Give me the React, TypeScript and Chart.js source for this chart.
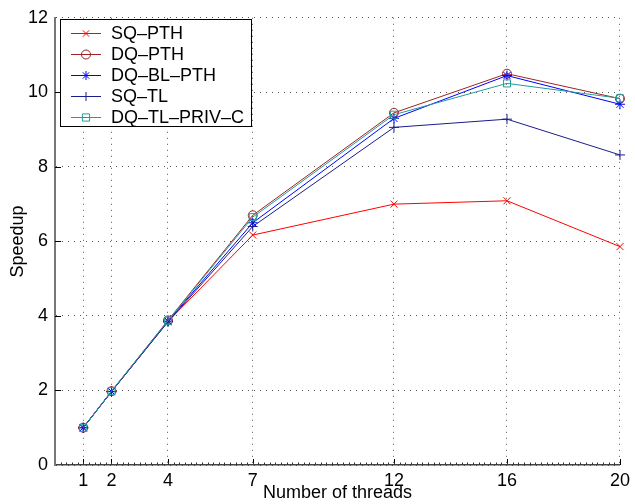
import React, { useEffect, useRef } from "react";
import { Chart, registerables } from "chart.js";

Chart.register(...registerables);

const threads = [1, 2, 4, 7, 12, 16, 20];
const xTicks = [1, 2, 4, 7, 12, 16, 20];
const yMin = 0;
const yMax = 12;
const yStep = 2;
const xMinorStep = 0.2;

const seriesNames = ["SQ–PTH", "DQ–PTH", "DQ–BL–PTH", "SQ–TL", "DQ–TL–PRIV–C"];
const sqPth = [1.0, 1.97, 3.85, 6.17, 7.0, 7.09, 5.86];
const dqPth = [1.0, 1.98, 3.88, 6.7, 9.45, 10.5, 9.83];
const dqBlPth = [1.0, 1.97, 3.86, 6.5, 9.3, 10.45, 9.68];
const sqTl = [1.0, 1.97, 3.84, 6.4, 9.06, 9.28, 8.32];
const dqTlPrivC = [1.0, 1.98, 3.87, 6.65, 9.4, 10.24, 9.84];

const seriesValues = [sqPth, dqPth, dqBlPth, sqTl, dqTlPrivC];
const seriesColors = ["#ff0000", "#9c2424", "#0000ff", "#1c1c8c", "#239b9b"];
const seriesMarkers = ["crossRot", "circle", "star", "cross", "rect"];

const FONT = "'Liberation Sans', Arial, Helvetica, sans-serif";

function drawMarker(ctx: CanvasRenderingContext2D, style: string, x: number, y: number, r: number) {
  ctx.beginPath();
  if (style === "circle") {
    ctx.arc(x, y, r, 0, Math.PI * 2);
  } else if (style === "rect") {
    ctx.rect(x - r * 0.8, y - r * 0.8, r * 1.6, r * 1.6);
  } else if (style === "cross" || style === "star") {
    ctx.moveTo(x - r, y);
    ctx.lineTo(x + r, y);
    ctx.moveTo(x, y - r);
    ctx.lineTo(x, y + r);
  }
  if (style === "crossRot" || style === "star") {
    const d = r * 0.707;
    ctx.moveTo(x - d, y - d);
    ctx.lineTo(x + d, y + d);
    ctx.moveTo(x - d, y + d);
    ctx.lineTo(x + d, y - d);
  }
  ctx.stroke();
}

const decorPlugin = {
  id: "decor",
  afterDatasetsDraw(chart: any) {
    const ctx: CanvasRenderingContext2D = chart.ctx;
    const area = chart.chartArea;
    const xs = chart.scales.x;
    const ys = chart.scales.y;
    ctx.save();
    // inward tick marks
    ctx.strokeStyle = "#000";
    ctx.lineWidth = 1;
    ctx.beginPath();
    for (const t of xTicks) {
      const px = Math.round(xs.getPixelForValue(t)) + 0.5;
      ctx.moveTo(px, area.bottom);
      ctx.lineTo(px, area.bottom - 6);
    }
    for (let v = yMin + yStep; v < yMax; v += yStep) {
      const py = Math.round(ys.getPixelForValue(v)) + 0.5;
      ctx.moveTo(area.left, py);
      ctx.lineTo(area.left + 6, py);
    }
    ctx.stroke();
    // minor ticks on bottom axis
    ctx.strokeStyle = "#333";
    ctx.beginPath();
    const n = Math.round((xs.max - xs.min) / xMinorStep);
    for (let k = 1; k < n; k++) {
      const px = Math.round(xs.getPixelForValue(xs.min + k * xMinorStep)) + 0.5;
      ctx.moveTo(px, area.bottom);
      ctx.lineTo(px, area.bottom - 2.5);
    }
    ctx.stroke();

    // legend
    const lx = 60.5;
    const ly = 19.5;
    const lw = 191;
    const lh = 107;
    ctx.fillStyle = "#fff";
    ctx.fillRect(lx, ly, lw, lh);
    ctx.strokeStyle = "#000";
    ctx.lineWidth = 1;
    ctx.strokeRect(lx, ly, lw, lh);
    ctx.font = "18px " + FONT;
    ctx.textBaseline = "middle";
    ctx.textAlign = "left";
    seriesNames.forEach((name, i) => {
      const y = 33 + i * 21;
      ctx.strokeStyle = seriesColors[i];
      ctx.lineWidth = 1;
      ctx.beginPath();
      ctx.moveTo(71, y + 0.5);
      ctx.lineTo(101, y + 0.5);
      ctx.stroke();
      drawMarker(ctx, seriesMarkers[i], 86, y + 0.5, 4.5);
      ctx.fillStyle = "#000";
      ctx.fillText(name, 111, y + 1);
    });
    ctx.restore();
  },
};

export default function App() {
  const ref = useRef<HTMLCanvasElement | null>(null);

  useEffect(() => {
    document.body.style.margin = "0";
    const canvas = ref.current;
    if (!canvas) return;
    const datasets = seriesNames.map((name, i) => ({
      label: name,
      data: threads.map((t, j) => ({ x: t, y: seriesValues[i][j] })),
      borderColor: seriesColors[i],
      backgroundColor: "transparent",
      pointBackgroundColor: "transparent",
      pointBorderColor: seriesColors[i],
      pointStyle: seriesMarkers[i],
      pointRadius: seriesMarkers[i] === "circle" ? 4.5 : 5,
      pointBorderWidth: 1,
      borderWidth: 1,
      tension: 0,
      fill: false,
      clip: false,
      order: seriesNames.length - i,
    }));
    const chart = new Chart(canvas, {
      type: "line",
      data: { datasets },
      plugins: [decorPlugin],
      options: {
        animation: false,
        responsive: false,
        maintainAspectRatio: false,
        devicePixelRatio: 1,
        layout: { padding: { left: 0, top: 15, right: 12, bottom: 0 } },
        plugins: {
          legend: { display: false },
          tooltip: { enabled: false },
        },
        scales: {
          x: {
            type: "linear",
            min: 0,
            max: 20,
            afterBuildTicks: (scale: any) => {
              scale.ticks = xTicks.map((v) => ({ value: v }));
            },
            afterFit: (scale: any) => {
              scale.height = 39;
            },
            ticks: {
              autoSkip: false,
              maxRotation: 0,
              padding: 5,
              color: "#000",
              font: { family: FONT, size: 18 },
              callback: (v: any) => String(v),
            },
            grid: { color: "#555", lineWidth: 1, drawTicks: false },
            border: { display: true, color: "#444", width: 1.5, dash: [1, 5] },
            title: {
              display: true,
              text: "Number of threads",
              color: "#000",
              font: { family: FONT, size: 18 },
              padding: { top: 0, bottom: 0 },
            },
          },
          y: {
            min: yMin,
            max: yMax,
            afterFit: (scale: any) => {
              scale.width = 55;
            },
            ticks: {
              stepSize: yStep,
              padding: 7,
              color: "#000",
              font: { family: FONT, size: 18 },
            },
            grid: { color: "#555", lineWidth: 1, drawTicks: false },
            border: { display: true, color: "#777", width: 2, dash: [1, 5] },
            title: {
              display: true,
              text: "Speedup",
              color: "#000",
              font: { family: FONT, size: 18 },
              padding: { top: 7, bottom: 0 },
            },
          },
        },
      } as any,
    });
    return () => chart.destroy();
  }, []);

  return (
    <div style={{ position: "absolute", left: 0, top: 0, width: 635, height: 504, background: "#fff" }}>
      <canvas ref={ref} width={635} height={504} style={{ width: 635, height: 504 }} />
    </div>
  );
}
